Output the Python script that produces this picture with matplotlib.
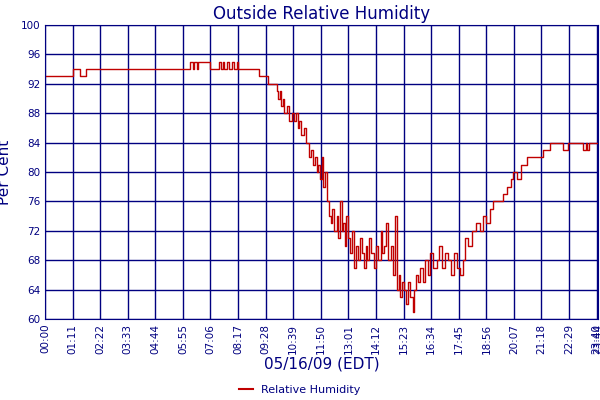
import matplotlib
matplotlib.use("Agg")
import matplotlib.pyplot as plt
from matplotlib.lines import Line2D

navy = "#000080"
# minutes after midnight, relative humidity (%)
times = [0, 71, 91, 106, 373, 380, 383, 391, 395, 425, 448, 452, 458, 462, 469, 474, 482, 487, 495, 498, 505, 552, 575, 593,
         596, 600, 604, 608, 612, 616, 622, 628, 635, 640, 645, 650, 655, 660, 666, 672, 680, 686, 690, 695, 700, 704, 708,
         712, 716, 720, 725, 730, 735, 740, 745, 751, 755, 760, 764, 768, 772, 776, 780, 785, 790, 795, 800, 805, 810, 815,
         821, 826, 830, 835, 840, 846, 852, 858, 864, 868, 873, 878, 884, 890, 895, 900, 905, 910, 915, 920, 925, 930, 935,
         940, 946, 950, 955, 960, 966, 972, 978, 985, 992, 1000, 1008, 1015, 1022, 1030, 1038, 1045, 1052, 1060, 1068,
         1075, 1082, 1090, 1100, 1110, 1120, 1127, 1135, 1145, 1153, 1165, 1178, 1190, 1200, 1205, 1215, 1225, 1240, 1260,
         1282, 1300, 1334, 1346, 1350, 1385, 1392, 1396, 1400, 1424]
humid = [93, 94, 93, 94, 95, 94, 95, 94, 95, 94, 95, 94, 95, 94, 95, 94, 95, 94, 95, 94, 94, 93, 92, 92,
         91, 90, 91, 89, 90, 88, 89, 87, 88, 87, 88, 86, 87, 85, 86, 84, 82, 83, 81, 82, 80, 81, 79, 82, 78, 80, 76,
         74, 73, 75, 72, 74, 71, 76, 72, 73, 70, 74, 71, 69, 72, 67, 70, 68, 71, 69, 67, 70, 68, 71, 69, 67, 70, 68,
         72, 69, 70, 73, 68, 70, 66, 74, 64, 66, 63, 65, 64, 62, 65, 63, 61, 64, 66, 65, 67, 65, 68, 66, 69, 67, 68,
         70, 67, 69, 68, 66, 69, 67, 66, 68, 71, 70, 72, 73, 72, 74, 73, 75, 76, 76, 77, 78, 79, 80, 79, 81, 82, 82,
         83, 84, 83, 84, 84, 83, 84, 83, 84, 84]
tick_labels = ["00:00", "01:11", "02:22", "03:33", "04:44", "05:55", "07:06", "08:17", "09:28", "10:39", "11:50",
               "13:01", "14:12", "15:23", "16:34", "17:45", "18:56", "20:07", "21:18", "22:29", "23:40", "23:44"]
tick_pos = [i * 71 for i in range(21)] + [1424]

fig = plt.figure(figsize=(6, 4), dpi=100)
ax = fig.add_axes([0.075, 0.2025, 0.922, 0.735])
ax.plot(times, humid, drawstyle="steps-post", color="#c00000", lw=1)
ax.set_xlim(0, 1424)
ax.set_ylim(60, 100)
ax.set_yticks(range(60, 101, 4))
ax.set_xticks(tick_pos)
ax.set_xticklabels(tick_labels, rotation=90, fontsize=7.5, color=navy)
ax.tick_params(axis="y", labelsize=7.5, colors=navy, length=0)
ax.tick_params(axis="x", length=0, colors=navy)
ax.grid(True, color=navy, lw=1)
for s in ax.spines.values():
    s.set_color(navy)
ax.set_title("Outside Relative Humidity", fontsize=12, color=navy, pad=4)
ax.set_ylabel("Per Cent", fontsize=11, color=navy, labelpad=6)
ax.set_xlabel("05/16/09 (EDT)", fontsize=11, color=navy, labelpad=2)
fig.legend(handles=[Line2D([], [], color="#c00000", lw=1.5)], labels=["Relative Humidity"],
           loc="center", bbox_to_anchor=(0.5, 0.025), frameon=False, fontsize=8, labelcolor=navy, handlelength=1.2)
fig.savefig("out.png", dpi=100)
